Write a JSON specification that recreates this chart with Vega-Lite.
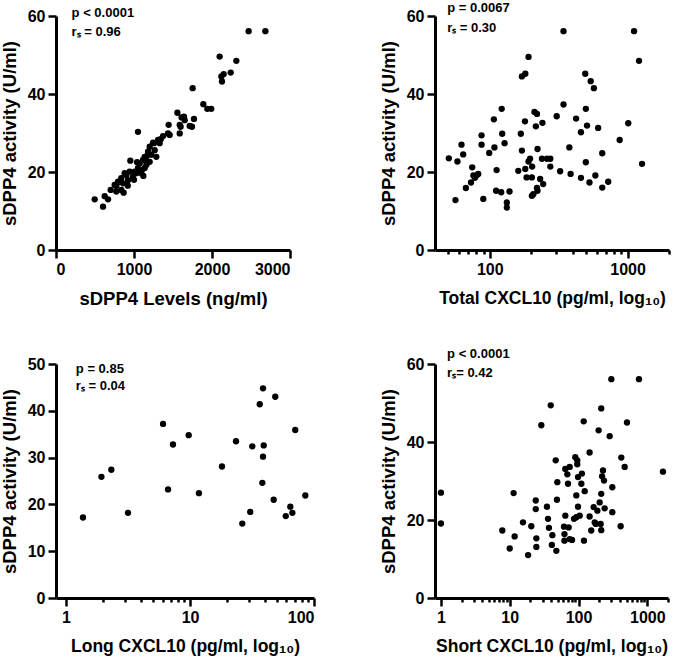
{
  "$schema": "https://vega.github.io/schema/vega-lite/v6.json",
  "padding": {"left": 0, "top": 2, "right": 2, "bottom": 2},
  "bounds": "full",
  "spacing": 39,
  "config": {
    "view": {"stroke": null},
    "font": "Liberation Sans",
    "axis": {
      "grid": false,
      "domainColor": "black",
      "domainWidth": 3,
      "tickColor": "black",
      "tickWidth": 2.5,
      "tickSize": 8,
      "labelFont": "Liberation Sans",
      "labelFontWeight": "bold",
      "labelFontSize": 16,
      "labelColor": "black",
      "labelPadding": 3,
      "titleFont": "Liberation Sans",
      "titleFontWeight": "bold",
      "titleFontSize": 18.5,
      "titleColor": "black",
      "labelOverlap": false
    },
    "axisX": {"titlePadding": 12},
    "axisY": {"titlePadding": 8},
    "point": {"filled": true, "color": "black", "size": 40, "opacity": 1},
    "text": {"font": "Liberation Sans", "fontWeight": "bold", "fontSize": 13, "align": "left", "baseline": "middle", "color": "black"}
  },
  "vconcat": [
    {
      "hconcat": [
        {
          "width": 234, "height": 234,
          "layer": [
            {
              "data": {"values": [
                {"x":496,"y":13.0},{"x":603,"y":11.1},{"x":624,"y":13.8},{"x":667,"y":13.0},{"x":701,"y":15.4},{"x":774,"y":15.0},{"x":867,"y":14.7},{"x":837,"y":15.4},{"x":774,"y":16.4},{"x":795,"y":17.5},{"x":859,"y":17.1},{"x":837,"y":18.4},{"x":923,"y":17.9},{"x":902,"y":19.2},{"x":987,"y":18.8},{"x":944,"y":20.1},{"x":1009,"y":20.1},{"x":1094,"y":19.7},{"x":953,"y":22.9},{"x":1051,"y":21.0},{"x":1137,"y":21.0},{"x":1158,"y":21.8},{"x":1073,"y":22.2},{"x":1201,"y":22.6},{"x":1115,"y":23.1},{"x":1137,"y":23.9},{"x":1286,"y":23.9},{"x":1222,"y":24.4},{"x":1180,"y":25.2},{"x":1265,"y":25.6},{"x":1201,"y":26.5},{"x":1256,"y":27.4},{"x":1329,"y":27.4},{"x":1308,"y":28.2},{"x":1372,"y":29.2},{"x":1436,"y":29.9},{"x":1051,"y":30.3},{"x":1586,"y":29.9},{"x":1444,"y":32.1},{"x":1586,"y":32.1},{"x":1714,"y":31.8},{"x":1457,"y":29.5},{"x":1556,"y":35.2},{"x":1641,"y":34.2},{"x":1650,"y":33.3},{"x":1769,"y":33.6},{"x":1752,"y":41.5},{"x":1889,"y":37.4},{"x":1940,"y":36.2},{"x":1991,"y":36.2},{"x":2098,"y":49.6},{"x":2312,"y":48.5},{"x":2150,"y":45.1},{"x":2240,"y":45.5},{"x":2120,"y":44.5},{"x":2128,"y":43.2},{"x":2470,"y":56.1},{"x":2684,"y":56.1},{"x":880,"y":19.7},{"x":816,"y":17.5},{"x":752,"y":16.7},{"x":1030,"y":19.7},{"x":1180,"y":22.6},{"x":1244,"y":27.5},{"x":1342,"y":28.4},{"x":1610,"y":34.0},{"x":1598,"y":31.6},{"x":1744,"y":31.6},{"x":1000,"y":18.0},{"x":1100,"y":20.5},{"x":1160,"y":24.0},{"x":920,"y":16.5},{"x":1040,"y":22.5},{"x":1120,"y":19.0}
              ]},
              "mark": "point",
              "encoding": {
                "x": {"field": "x", "type": "quantitative", "scale": {"domain": [0, 3000], "nice": false}, "axis": {"values": [0, 1000, 2000, 3000], "format": "d", "title": "sDPP4 Levels (ng/ml)"}},
                "y": {"field": "y", "type": "quantitative", "scale": {"domain": [0, 60], "nice": false}, "axis": {"values": [0, 20, 40, 60], "title": "sDPP4 activity (U/ml)"}}
              }
            },
            {
              "data": {"values": [{"label": "p < 0.0001", "x": 200, "y": 60.8}, {"label": "rₛ = 0.96", "x": 200, "y": 55.9}]},
              "mark": "text",
              "encoding": {"x": {"field": "x", "type": "quantitative"}, "y": {"field": "y", "type": "quantitative"}, "text": {"field": "label"}}
            }
          ]
        },
        {
          "width": 234, "height": 234,
          "layer": [
            {
              "data": {"values": [
                {"x":50.4,"y":23.5},{"x":56.3,"y":12.8},{"x":58.2,"y":22.7},{"x":62.3,"y":27.0},{"x":64.1,"y":24.5},{"x":67.0,"y":15.9},{"x":74.5,"y":21.2},{"x":73,"y":17.3},{"x":76,"y":19.1},{"x":80,"y":19.1},{"x":82.4,"y":19.5},{"x":78,"y":18.5},{"x":87.1,"y":29.4},{"x":87.1,"y":27.0},{"x":89.7,"y":13.1},{"x":99,"y":24.9},{"x":107,"y":33.5},{"x":108,"y":26.3},{"x":112,"y":20.5},{"x":111,"y":15.2},{"x":121,"y":14.8},{"x":122,"y":36.2},{"x":123,"y":29.8},{"x":128,"y":27.4},{"x":133,"y":12.2},{"x":133,"y":10.9},{"x":139,"y":15.0},{"x":161,"y":20.3},{"x":168,"y":29.8},{"x":171,"y":25.5},{"x":171,"y":44.5},{"x":181,"y":45.2},{"x":180,"y":33.0},{"x":181,"y":20.8},{"x":185,"y":18.6},{"x":191,"y":49.5},{"x":191,"y":22.7},{"x":196,"y":23.4},{"x":202,"y":18.6},{"x":203,"y":21.4},{"x":202,"y":13.9},{"x":207,"y":14.3},{"x":211,"y":35.4},{"x":216,"y":31.7},{"x":220,"y":34.9},{"x":222,"y":15.2},{"x":220,"y":15.9},{"x":222,"y":25.9},{"x":232,"y":18.2},{"x":239,"y":23.4},{"x":241,"y":32.6},{"x":244,"y":16.9},{"x":260,"y":23.4},{"x":275,"y":21.4},{"x":275,"y":23.4},{"x":306,"y":34.3},{"x":324,"y":20.2},{"x":343,"y":56.1},{"x":343,"y":37.3},{"x":378,"y":26.3},{"x":386,"y":19.5},{"x":423,"y":33.7},{"x":459,"y":30.2},{"x":459,"y":18.5},{"x":493,"y":45.2},{"x":498,"y":36.2},{"x":498,"y":22.5},{"x":508,"y":31.9},{"x":529,"y":17.3},{"x":540,"y":43.3},{"x":570,"y":41.5},{"x":584,"y":19.1},{"x":612,"y":31.3},{"x":655,"y":24.8},{"x":655,"y":16.0},{"x":724,"y":17.5},{"x":877,"y":28.2},{"x":1012,"y":32.5},{"x":1115,"y":56.1},{"x":1212,"y":48.5},{"x":1274,"y":22.1}
              ]},
              "mark": "point",
              "encoding": {
                "x": {"field": "x", "type": "quantitative", "scale": {"type": "log", "domain": [40, 2000], "nice": false},
                  "axis": {"values": [50,60,70,80,90,100,200,300,400,500,600,700,800,900,1000,2000], "format": "d",
                    "labelExpr": "datum.value == 100 || datum.value == 1000 ? datum.label : ''",
                    "tickSize": {"condition": {"test": "datum.value == 100 || datum.value == 1000", "value": 8}, "value": 4},
                    "titleFontSize": 17.5,
                    "title": "Total CXCL10 (pg/ml, log₁₀)"}},
                "y": {"field": "y", "type": "quantitative", "scale": {"domain": [0, 60], "nice": false}, "axis": {"values": [0, 20, 40, 60], "title": "sDPP4 activity (U/ml)"}}
              }
            },
            {
              "data": {"values": [{"label": "p = 0.0067", "x": 49, "y": 62}, {"label": "rₛ = 0.30", "x": 49, "y": 56.9}]},
              "mark": "text",
              "encoding": {"x": {"field": "x", "type": "quantitative"}, "y": {"field": "y", "type": "quantitative"}, "text": {"field": "label"}}
            }
          ]
        }
      ],
      "spacing": 145,
      "bounds": "flush"
    },
    {
      "hconcat": [
        {
          "width": 258, "height": 234,
          "layer": [
            {
              "data": {"values": [
                {"x":1.37,"y":17.2},{"x":1.93,"y":25.9},{"x":2.32,"y":27.4},{"x":3.16,"y":18.2},{"x":6.06,"y":37.2},{"x":6.65,"y":23.2},{"x":7.29,"y":32.8},{"x":9.76,"y":34.8},{"x":11.8,"y":22.4},{"x":18.1,"y":28.1},{"x":23.5,"y":33.5},{"x":26.4,"y":15.9},{"x":30.6,"y":18.4},{"x":31.8,"y":32.4},{"x":36.5,"y":41.4},{"x":38.8,"y":44.8},{"x":39.3,"y":32.6},{"x":38.8,"y":30.2},{"x":38.3,"y":24.6},{"x":47.3,"y":21.0},{"x":48.7,"y":43.0},{"x":59.2,"y":17.5},{"x":64.4,"y":19.5},{"x":66.9,"y":18.2},{"x":70.6,"y":35.9},{"x":85.1,"y":21.9}
              ]},
              "mark": "point",
              "encoding": {
                "x": {"field": "x", "type": "quantitative", "scale": {"type": "log", "domain": [0.83, 100], "nice": false},
                  "axis": {"values": [1,2,3,4,5,6,7,8,9,10,20,30,40,50,60,70,80,90,100], "format": "d",
                    "labelExpr": "datum.value == 1 || datum.value == 10 || datum.value == 100 ? datum.label : ''",
                    "tickSize": {"condition": {"test": "datum.value == 1 || datum.value == 10 || datum.value == 100", "value": 8}, "value": 4},
                    "titleFontSize": 17.5,
                    "title": "Long CXCL10 (pg/ml, log₁₀)"}},
                "y": {"field": "y", "type": "quantitative", "scale": {"domain": [0, 50], "nice": false}, "axis": {"values": [0, 10, 20, 30, 40, 50], "title": "sDPP4 activity (U/ml)"}}
              }
            },
            {
              "data": {"values": [{"label": "p = 0.85", "x": 1.2, "y": 48.9}, {"label": "rₛ = 0.04", "x": 1.2, "y": 45.3}]},
              "mark": "text",
              "encoding": {"x": {"field": "x", "type": "quantitative"}, "y": {"field": "y", "type": "quantitative"}, "text": {"field": "label"}}
            }
          ]
        },
        {
          "width": 233, "height": 234,
          "layer": [
            {
              "data": {"values": [
                {"x":1.0,"y":27.0},{"x":1.0,"y":19.1},{"x":7.8,"y":17.3},{"x":10,"y":12.7},{"x":11.8,"y":15.8},{"x":11.4,"y":26.9},{"x":15.6,"y":19.4},{"x":18.5,"y":11.0},{"x":20.6,"y":18.4},{"x":23.9,"y":25.0},{"x":23.9,"y":22.8},{"x":24.4,"y":15.3},{"x":24.4,"y":13.1},{"x":28.8,"y":44.3},{"x":34.8,"y":23.4},{"x":36.0,"y":20.3},{"x":39.5,"y":49.4},{"x":37.2,"y":18.0},{"x":41.7,"y":16.1},{"x":41,"y":13.6},{"x":46.6,"y":35.3},{"x":49.2,"y":29.7},{"x":48.6,"y":25.2},{"x":47.6,"y":12.1},{"x":61.5,"y":18.3},{"x":62.5,"y":16.4},{"x":62.5,"y":14.7},{"x":64.3,"y":21.1},{"x":64.3,"y":33.1},{"x":68.8,"y":31.7},{"x":70.4,"y":29.3},{"x":74.5,"y":33.6},{"x":72,"y":18.1},{"x":74.5,"y":15.1},{"x":80.5,"y":14.9},{"x":86,"y":20.3},{"x":89.8,"y":36.1},{"x":92.9,"y":26.3},{"x":92.9,"y":20.7},{"x":96,"y":35.3},{"x":96,"y":34.3},{"x":98.4,"y":31.0},{"x":98.4,"y":23.4},{"x":104,"y":21.1},{"x":110,"y":29.3},{"x":112,"y":31.9},{"x":119,"y":45.3},{"x":123,"y":27.4},{"x":120,"y":14.7},{"x":145,"y":37.3},{"x":145,"y":20.9},{"x":153,"y":17.3},{"x":166,"y":23.3},{"x":172,"y":19.4},{"x":178,"y":19.0},{"x":188,"y":22.4},{"x":196,"y":43.0},{"x":203,"y":24.5},{"x":210,"y":19.0},{"x":214,"y":26.7},{"x":214,"y":48.6},{"x":214,"y":17.4},{"x":220,"y":31.2},{"x":227,"y":32.7},{"x":235,"y":30.1},{"x":240,"y":23.0},{"x":284,"y":41.5},{"x":300,"y":56.1},{"x":310,"y":28.4},{"x":310,"y":22.0},{"x":410,"y":18.4},{"x":419,"y":36.0},{"x":469,"y":33.6},{"x":507,"y":45.0},{"x":757,"y":56.1},{"x":1690,"y":32.4}
              ]},
              "mark": "point",
              "encoding": {
                "x": {"field": "x", "type": "quantitative", "scale": {"type": "log", "domain": [0.82, 2000], "nice": false},
                  "axis": {"values": [1,2,3,4,5,6,7,8,9,10,20,30,40,50,60,70,80,90,100,200,300,400,500,600,700,800,900,1000,2000], "format": "d",
                    "labelExpr": "datum.value == 1 || datum.value == 10 || datum.value == 100 || datum.value == 1000 ? datum.label : ''",
                    "tickSize": {"condition": {"test": "datum.value == 1 || datum.value == 10 || datum.value == 100 || datum.value == 1000", "value": 8}, "value": 4},
                    "titleFontSize": 17.5,
                    "title": "Short CXCL10 (pg/ml, log₁₀)"}},
                "y": {"field": "y", "type": "quantitative", "scale": {"domain": [0, 60], "nice": false}, "axis": {"values": [0, 20, 40, 60], "title": "sDPP4 activity (U/ml)"}}
              }
            },
            {
              "data": {"values": [{"label": "p < 0.0001", "x": 1.23, "y": 62.6}, {"label": "rₛ= 0.42", "x": 1.23, "y": 57.7}]},
              "mark": "text",
              "encoding": {"x": {"field": "x", "type": "quantitative"}, "y": {"field": "y", "type": "quantitative"}, "text": {"field": "label"}}
            }
          ]
        }
      ],
      "spacing": 121,
      "bounds": "flush"
    }
  ]
}
